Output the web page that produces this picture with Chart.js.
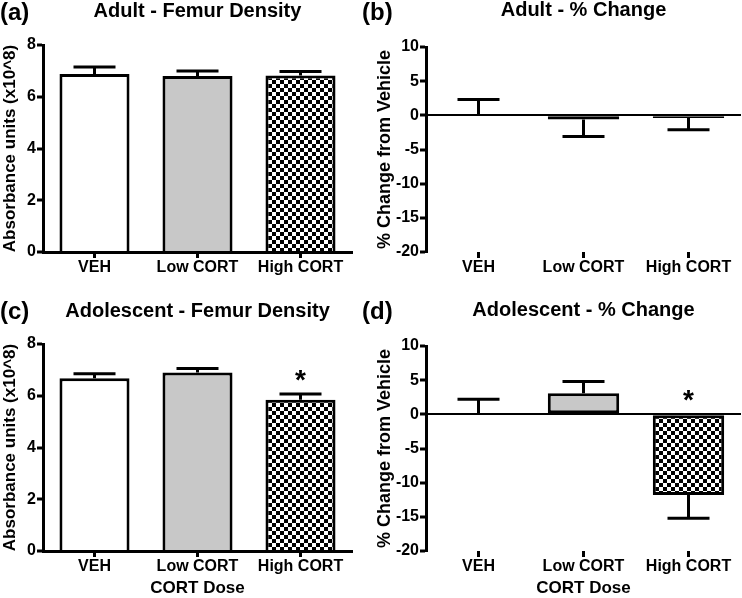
<!DOCTYPE html>
<html><head><meta charset="utf-8">
<script src="https://cdn.jsdelivr.net/npm/chart.js@4.4.0/dist/chart.umd.min.js"></script>
<style>
html,body{margin:0;padding:0;background:#fff;}
#wrap{position:relative;width:742px;height:598px;overflow:hidden;background:#fff;}
.panel{position:absolute;width:371px;height:299px;}
.lab{position:absolute;font:bold 24px "Liberation Sans",Arial,sans-serif;color:#000;line-height:24px;z-index:5;}
</style></head><body>
<div id="wrap">
<div class="panel" style="left:0;top:0"><canvas id="ca" width="371" height="299"></canvas></div>
<div class="panel" style="left:371px;top:0"><canvas id="cb" width="371" height="299"></canvas></div>
<div class="panel" style="left:0;top:299px"><canvas id="cc" width="371" height="299"></canvas></div>
<div class="panel" style="left:371px;top:299px"><canvas id="cd" width="371" height="299"></canvas></div>
<div class="lab" style="left:0;top:0">(a)</div>
<div class="lab" style="left:362px;top:0">(b)</div>
<div class="lab" style="left:0;top:299px">(c)</div>
<div class="lab" style="left:362px;top:299px">(d)</div>
</div>
<script>
const categories = ['VEH', 'Low CORT', 'High CORT'];
const adultDensity = [6.88, 6.80, 6.82];
const adultDensityErr = [0.27, 0.20, 0.16];
const adultChange = [0, -0.6, -0.4];
const adultChangeErr = [2.3, 2.5, 1.7];
const adolDensity = [6.68, 6.90, 5.85];
const adolDensityErr = [0.17, 0.15, 0.22];
const adolChange = [0, 3.1, -11.8];
const adolChangeErr = [2.2, 1.7, 3.4];
const adultSig = [false, false, false];
const adolSig = [false, false, true];
const densityTicks = [0, 2, 4, 6, 8];
const changeTicks = [-20, -15, -10, -5, 0, 5, 10];

const FONT = '"Liberation Sans", Arial, sans-serif';

function checker() {
  const c = document.createElement('canvas');
  c.width = 8; c.height = 8;
  const g = c.getContext('2d');
  g.fillStyle = '#fff'; g.fillRect(0, 0, 8, 8);
  g.fillStyle = '#000'; g.fillRect(0, 0, 4, 4); g.fillRect(4, 4, 4, 4);
  return g.createPattern(c, 'repeat');
}

const errPlugin = {
  id: 'errbars',
  afterDatasetsDraw(chart, args, o) {
    const ctx = chart.ctx, ys = chart.scales.y;
    const meta = chart.getDatasetMeta(0);
    const vals = chart.data.datasets[0].data;
    ctx.save();
    ctx.strokeStyle = '#000'; ctx.lineWidth = 3; ctx.lineCap = 'butt';
    meta.data.forEach((bar, i) => {
      const v = vals[i], e = o.errs[i];
      const dir = v < 0 ? -1 : 1;
      const y0 = ys.getPixelForValue(v), y1 = ys.getPixelForValue(v + dir * e);
      const x = bar.x;
      ctx.beginPath();
      ctx.moveTo(x, y0); ctx.lineTo(x, y1);
      ctx.moveTo(x - 21, y1); ctx.lineTo(x + 21, y1);
      ctx.stroke();
      if (o.sig[i]) {
        ctx.fillStyle = '#000';
        ctx.font = 'bold 28px ' + FONT;
        ctx.textAlign = 'center'; ctx.textBaseline = 'alphabetic';
        const by = v >= 0 ? y1 - 5 : ys.getPixelForValue(0) - 5;
        ctx.fillText('*', x, by);
      }
    });
    ctx.restore();
  }
};

const titlePlugin = {
  id: 'ptitle',
  afterDraw(chart, args, o) {
    const ctx = chart.ctx, ca = chart.chartArea;
    ctx.save();
    ctx.fillStyle = '#000';
    ctx.font = 'bold 20px ' + FONT;
    ctx.textAlign = 'center'; ctx.textBaseline = 'alphabetic';
    ctx.fillText(o.text, (ca.left + ca.right) / 2, o.y);
    ctx.restore();
  }
};

function makeChart(id, p) {
  const isChange = p.kind === 'change';
  const yW = isChange ? 55 : 43;
  new Chart(document.getElementById(id), {
    type: 'bar',
    data: {
      labels: categories,
      datasets: [{
        data: p.values,
        backgroundColor: ['#ffffff', '#c8c8c8', checker()],
        borderColor: '#000',
        borderWidth: 3,
        borderSkipped: isChange ? false : 'start',
        barPercentage: 0.68,
        categoryPercentage: 1.0
      }]
    },
    plugins: [errPlugin, titlePlugin],
    options: {
      responsive: false,
      animation: false,
      events: [],
      layout: { padding: { left: 0, right: isChange ? 1 : 19, top: isChange ? 47 : 45, bottom: 0 } },
      plugins: {
        legend: { display: false },
        tooltip: { enabled: false },
        errbars: { errs: p.errs, sig: p.sig },
        ptitle: { text: p.title, y: p.titleY }
      },
      scales: {
        x: {
          type: 'category',
          offset: true,
          grid: { display: true, drawOnChartArea: false, offset: false, tickLength: 6, tickColor: '#000', tickWidth: 3, color: '#000' },
          border: { display: !isChange, color: '#000', width: 3 },
          ticks: { color: '#000', font: { family: FONT, size: 16, weight: 'bold' }, padding: 0, maxRotation: 0, autoSkip: false },
          title: { display: !!p.xTitle, text: p.xTitle || '', color: '#000', font: { family: FONT, size: 17, weight: 'bold', lineHeight: 1.1 }, padding: 0 },
          afterFit(s) { s.height = 47; }
        },
        y: {
          min: p.ticks[0], max: p.ticks[p.ticks.length - 1],
          afterBuildTicks(s) { s.ticks = p.ticks.map(v => ({ value: v })); },
          grid: {
            drawOnChartArea: isChange,
            color: c => (c.tick && c.tick.value === 0) ? '#000' : 'rgba(0,0,0,0)',
            lineWidth: 2,
            tickLength: 6, tickColor: '#000', tickWidth: 3
          },
          border: { display: true, color: '#000', width: 3 },
          ticks: { color: '#000', font: { family: FONT, size: 16, weight: 'bold' }, padding: 1 },
          title: { display: true, text: p.yTitle, color: '#000', font: { family: FONT, size: isChange ? 18 : 17, weight: 'bold' }, padding: { top: isChange ? 3 : 0, bottom: 0 } },
          afterFit(s) { s.width = yW; }
        }
      }
    }
  });
}

makeChart('ca', { kind: 'density', values: adultDensity, errs: adultDensityErr, sig: adultSig, ticks: densityTicks,
  title: 'Adult - Femur Density', titleY: 17, yTitle: 'Absorbance units (x10^8)' });
makeChart('cb', { kind: 'change', values: adultChange, errs: adultChangeErr, sig: adultSig, ticks: changeTicks,
  title: 'Adult - % Change', titleY: 16, yTitle: '% Change from Vehicle' });
makeChart('cc', { kind: 'density', values: adolDensity, errs: adolDensityErr, sig: adolSig, ticks: densityTicks,
  title: 'Adolescent - Femur Density', titleY: 18, yTitle: 'Absorbance units (x10^8)', xTitle: 'CORT Dose' });
makeChart('cd', { kind: 'change', values: adolChange, errs: adolChangeErr, sig: adolSig, ticks: changeTicks,
  title: 'Adolescent - % Change', titleY: 17, yTitle: '% Change from Vehicle', xTitle: 'CORT Dose' });
</script>
</body></html>
